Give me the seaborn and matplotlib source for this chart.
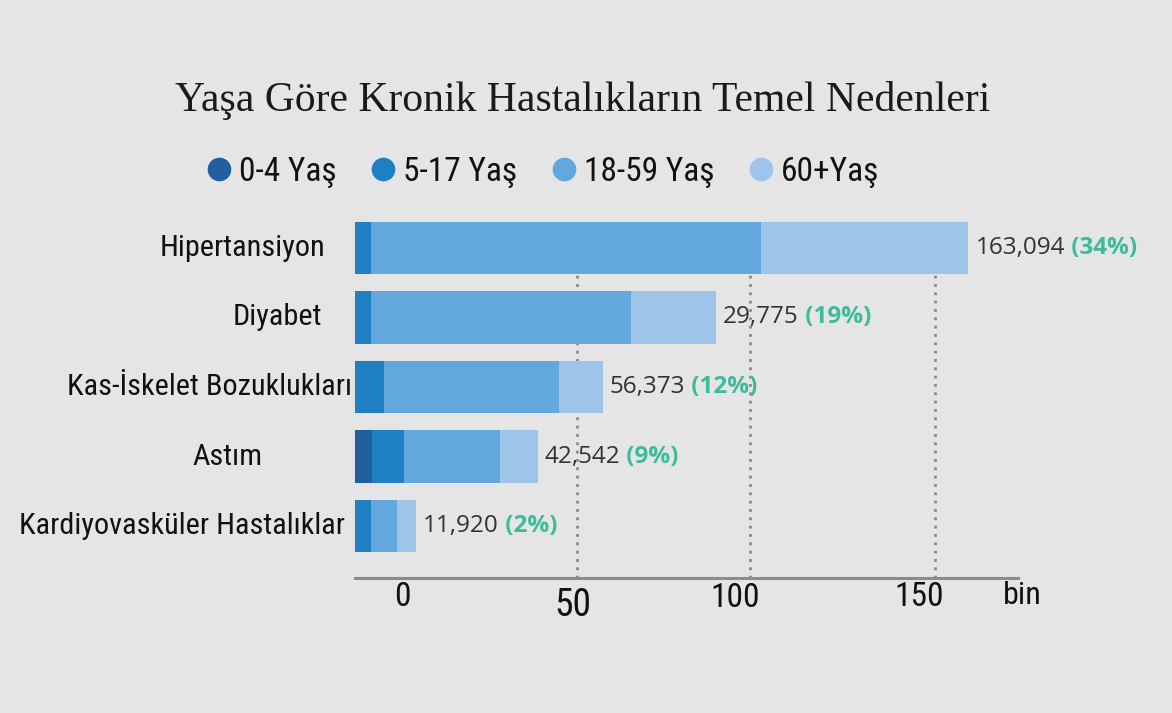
import numpy as np
import pandas as pd
import seaborn as sns
import matplotlib.pyplot as plt
from matplotlib.lines import Line2D
from matplotlib import transforms, font_manager

# data (bar segments in "bin")
diseases = ['Hipertansiyon', 'Diyabet', 'Kas-İskelet Bozuklukları', 'Astım', 'Kardiyovasküler Hastalıklar']
age_groups = ['0-4 Yaş', '5-17 Yaş', '18-59 Yaş', '60+Yaş']
age_0_4 = [0.0, 0.0, 0.0, 4.5, 0.0]
age_5_17 = [4.3, 4.3, 7.7, 8.5, 4.3]
age_18_59 = [103.7, 69.1, 46.5, 25.5, 6.9]
age_60 = [55.1, 22.6, 11.7, 10.1, 5.1]
totals_txt = ['163,094', '29,775', '56,373', '42,542', '11,920']
shares_txt = ['(34%)', '(19%)', '(12%)', '(9%)', '(2%)']
tick_labels = ['0', '50', '100', '150', 'bin']

colors = ['#225f9f', '#1e7fc1', '#62a8dc', '#9fc4ea']
bg = '#e5e5e5'

sns.set_style('white')
plt.rcParams['font.family'] = ['DejaVu Sans']

# look for a condensed sans for the labels, fall back to a smaller DejaVu
narrow_kw = {'family': ['DejaVu Sans'], 'stretch': 'normal'}
scale = 0.76
for f in font_manager.fontManager.ttflist:
    cond = ('Narrow' in f.name or 'Condensed' in f.name
            or f.stretch in ('condensed', 'semi-condensed', 'extra-condensed'))
    if cond and f.style == 'normal' and f.weight in (400, 'normal', 'regular'):
        narrow_kw = {'family': [f.name, 'DejaVu Sans'], 'stretch': f.stretch}
        scale = 1.0
        if f.name.startswith('Roboto') or f.name.startswith('Liberation'):
            break

df = pd.DataFrame({'Hastalık': diseases, age_groups[0]: age_0_4, age_groups[1]: age_5_17,
                   age_groups[2]: age_18_59, age_groups[3]: age_60})
cum = df[age_groups].cumsum(axis=1)
cum['Hastalık'] = df['Hastalık']

fig = plt.figure(figsize=(11.72, 7.13), dpi=100, facecolor=bg)
ax = fig.add_axes([355 / 1172, 135 / 713, 663 / 1172, 356 / 713])
ax.set_facecolor(bg)

# gridlines behind bars
for gx in [59.0, 105.1, 154.3]:
    ax.axvline(gx, color='#8a8a8a', lw=2, ls=(0, (1, 2)), zorder=0)

for grp, c in zip(reversed(age_groups), reversed(colors)):
    sns.barplot(data=cum, x=grp, y='Hastalık', orient='h', color=c, width=0.75,
                saturation=1, linewidth=0, ax=ax, zorder=2)

ax.set_xlim(0, 176.3)
ax.set_ylim(4.748, -0.374)
ax.set_xlabel('')
ax.set_ylabel('')
ax.set_xticks([])
ax.set_yticks([])
for s in ['top', 'right', 'left']:
    ax.spines[s].set_visible(False)
ax.spines['bottom'].set_color('#8c8c8c')
ax.spines['bottom'].set_linewidth(2.2)

# category labels (their right edges sit a little unevenly in the original)
label_gap = [30, 33, 3, 92, 10]
for i, (name, gap) in enumerate(zip(diseases, label_gap)):
    tr = transforms.blended_transform_factory(ax.transAxes, ax.transData)
    ax.text(0, i, name, transform=tr + transforms.ScaledTranslation(-gap / 100, 0, fig.dpi_scale_trans),
            ha='right', va='center', fontsize=21.8 * scale, color='#111111', **narrow_kw)

# value labels
totals = cum[age_groups[-1]].values
for i in range(len(diseases)):
    t = ax.annotate(totals_txt[i], xy=(totals[i], i), xytext=(5, 0), textcoords='offset points',
                    ha='left', va='center', fontsize=17.5, family=['Open Sans', 'DejaVu Sans'],
                    color='#333333', annotation_clip=False)
    ax.annotate(' ' + shares_txt[i], xy=(1, 0.5), xycoords=t, ha='left', va='center',
                fontsize=17.5, family=['Open Sans', 'DejaVu Sans'], fontweight='bold',
                color='#3dbb9c', annotation_clip=False)

# x tick labels, placed as in the picture
tick_x = [12.5, 58.0, 101.0, 150.0, 177.4]
tick_dy = [-19, -28, -20, -19, -18]
tick_fs = [24, 27, 24, 24, 23]
for lab, tx, dy, fs in zip(tick_labels, tick_x, tick_dy, tick_fs):
    tr = transforms.blended_transform_factory(ax.transData, ax.transAxes)
    ax.text(tx, 0, lab, transform=tr + transforms.ScaledTranslation(0, dy / 100, fig.dpi_scale_trans),
            ha='center', va='center', fontsize=fs * scale, color='#111111', clip_on=False, **narrow_kw)

# title + legend
fig.text(583 / 1172, 1 - 100 / 713, 'Yaşa Göre Kronik Hastalıkların Temel Nedenleri',
         ha='center', va='center', fontsize=30, family=['Liberation Serif', 'DejaVu Serif'], color='#1a1a1a')

handles = [Line2D([], [], marker='o', ls='', markersize=16, markerfacecolor=c, markeredgecolor=c)
           for c in colors]
leg_prop = font_manager.FontProperties(size=24 * scale, **narrow_kw)
leg = fig.legend(handles, age_groups, loc='center left', bbox_to_anchor=(204 / 1172, 1 - 172 / 713),
                 ncol=4, frameon=False, handletextpad=0.15, columnspacing=0.95, handlelength=0.9,
                 borderaxespad=0, borderpad=0, prop=leg_prop, labelcolor='#111111')

fig.savefig('out.png', dpi=100, facecolor=bg)
